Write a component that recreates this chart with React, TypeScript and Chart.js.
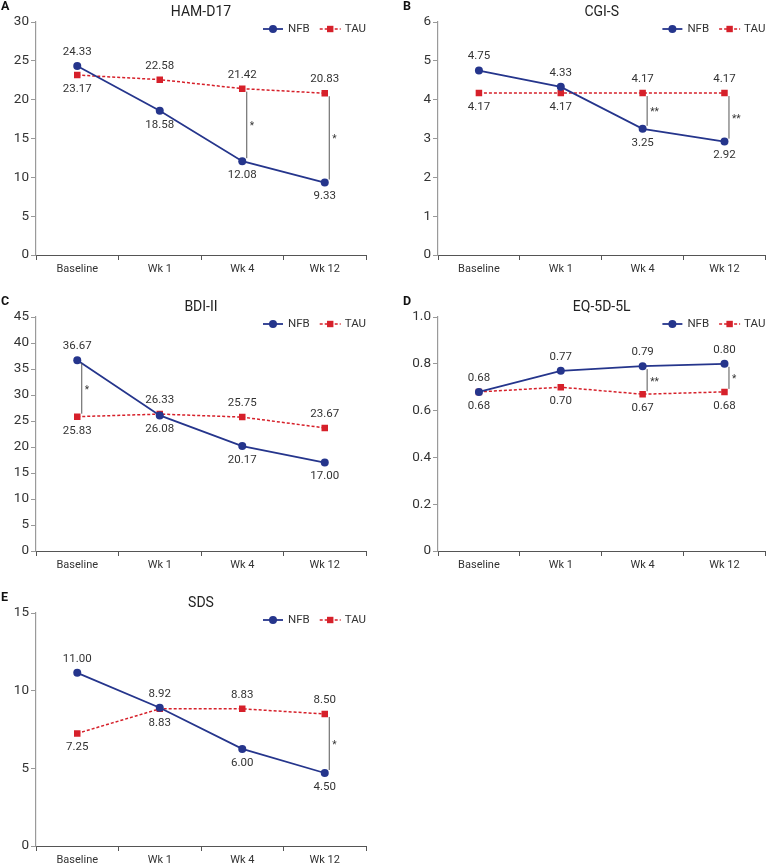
import React, { useEffect, useRef } from "react";
import { Chart, registerables } from "chart.js";

Chart.register(...registerables);

const FONT = "Roboto, 'Noto Sans', 'DejaVu Sans', sans-serif";
const NFB_COLOR = "#25358c";
const TAU_COLOR = "#d6202a";

const categories = ["Baseline", "Wk 1", "Wk 4", "Wk 12"];

const hamNFB = [24.33, 18.58, 12.08, 9.33];
const hamTAU = [23.17, 22.58, 21.42, 20.83];
const hamSig = ["", "", "*", "*"];

const cgiNFB = [4.75, 4.33, 3.25, 2.92];
const cgiTAU = [4.17, 4.17, 4.17, 4.17];
const cgiSig = ["", "", "**", "**"];

const bdiNFB = [36.67, 26.08, 20.17, 17.0];
const bdiTAU = [25.83, 26.33, 25.75, 23.67];
const bdiSig = ["*", "", "", ""];

const eqNFB = [0.68, 0.77, 0.79, 0.8];
const eqTAU = [0.68, 0.7, 0.67, 0.68];
const eqSig = ["", "", "**", "*"];

const sdsNFB = [11.15, 8.9, 6.25, 4.7];
const sdsNFBText = ["11.00", "8.92", "6.00", "4.50"];
const sdsTAU = [7.25, 8.83, 8.83, 8.5];
const sdsSig = ["", "", "", "*"];

const fmt2 = (a: number[]) => a.map((v) => v.toFixed(2));

type Panel = {
  letter: string;
  title: string;
  nfb: number[];
  tau: number[];
  nfbText: string[];
  tauText: string[];
  nfbPos: string[];
  tauPos: string[];
  sig: string[];
  min: number;
  max: number;
  step: number;
  decimals: boolean;
  box: { left: number; top: number; width: number; height: number };
  pad: { top: number; right: number; bottom: number };
  yWidth: number;
};

const panels: Panel[] = [
  {
    letter: "A", title: "HAM-D17", nfb: hamNFB, tau: hamTAU,
    nfbText: fmt2(hamNFB), tauText: fmt2(hamTAU),
    nfbPos: ["a", "b", "b", "b"], tauPos: ["b", "a", "a", "a"], sig: hamSig,
    min: 0, max: 30, step: 5, decimals: false,
    box: { left: 0, top: 0, width: 385, height: 290 },
    pad: { top: 22, right: 19, bottom: 17 }, yWidth: 36,
  },
  {
    letter: "B", title: "CGI-S", nfb: cgiNFB, tau: cgiTAU,
    nfbText: fmt2(cgiNFB), tauText: fmt2(cgiTAU),
    nfbPos: ["a", "a", "b", "b"], tauPos: ["b", "b", "a", "a"], sig: cgiSig,
    min: 0, max: 6, step: 1, decimals: false,
    box: { left: 385, top: 0, width: 385, height: 290 },
    pad: { top: 22, right: 2, bottom: 17 }, yWidth: 53,
  },
  {
    letter: "C", title: "BDI-II", nfb: bdiNFB, tau: bdiTAU,
    nfbText: fmt2(bdiNFB), tauText: fmt2(bdiTAU),
    nfbPos: ["a", "b", "b", "b"], tauPos: ["b", "a", "a", "a"], sig: bdiSig,
    min: 0, max: 45, step: 5, decimals: false,
    box: { left: 0, top: 290, width: 385, height: 290 },
    pad: { top: 27, right: 19, bottom: 11 }, yWidth: 36,
  },
  {
    letter: "D", title: "EQ-5D-5L", nfb: eqNFB, tau: eqTAU,
    nfbText: fmt2(eqNFB), tauText: fmt2(eqTAU),
    nfbPos: ["a", "a", "a", "a"], tauPos: ["b", "b", "b", "b"], sig: eqSig,
    min: 0, max: 1, step: 0.2, decimals: true,
    box: { left: 385, top: 290, width: 385, height: 290 },
    pad: { top: 27, right: 2, bottom: 11 }, yWidth: 53,
  },
  {
    letter: "E", title: "SDS", nfb: sdsNFB, tau: sdsTAU,
    nfbText: sdsNFBText, tauText: fmt2(sdsTAU),
    nfbPos: ["a", "a", "b", "b"], tauPos: ["b", "b", "a", "a"], sig: sdsSig,
    min: 0, max: 15, step: 5, decimals: false,
    box: { left: 0, top: 575, width: 385, height: 290 },
    pad: { top: 38, right: 19, bottom: 1 }, yWidth: 36,
  },
];

function makeAnnot(p: Panel) {
  return {
    id: "annot" + p.letter,
    afterDraw(chart: any) {
      const { ctx, chartArea } = chart;
      const top = chartArea.top;
      const left = chartArea.left;
      const right = chartArea.right;
      ctx.save();
      // data labels
      const m0 = chart.getDatasetMeta(0);
      const m1 = chart.getDatasetMeta(1);
      ctx.font = `11.5px ${FONT}`;
      ctx.fillStyle = "#333";
      ctx.textAlign = "center";
      ctx.textBaseline = "middle";
      m0.data.forEach((pt: any, i: number) => {
        const dy = p.nfbPos[i] === "a" ? -14 : 14;
        ctx.fillText(p.nfbText[i], pt.x, pt.y + dy);
      });
      m1.data.forEach((pt: any, i: number) => {
        const dy = p.tauPos[i] === "a" ? -14 : 14;
        ctx.fillText(p.tauText[i], pt.x, pt.y + dy);
      });
      // significance lines
      p.sig.forEach((s, i) => {
        if (!s) return;
        const a = m0.data[i];
        const b = m1.data[i];
        const x = a.x + 4.5;
        const y1 = Math.min(a.y, b.y) + 3;
        const y2 = Math.max(a.y, b.y) - 3;
        ctx.strokeStyle = "#555";
        ctx.lineWidth = 1;
        ctx.beginPath();
        ctx.moveTo(x, y1);
        ctx.lineTo(x, y2);
        ctx.stroke();
        ctx.font = `10px ${FONT}`;
        ctx.fillStyle = "#333";
        ctx.textAlign = "left";
        ctx.textBaseline = "middle";
        ctx.fillText(s, x + 3, (y1 + y2) / 2 + 2);
      });
      // title
      ctx.font = `14px ${FONT}`;
      ctx.fillStyle = "#222";
      ctx.textAlign = "center";
      ctx.textBaseline = "middle";
      ctx.fillText(p.title, (left + right) / 2, top - 10);
      // panel letter
      ctx.font = `bold 12.5px ${FONT}`;
      ctx.fillStyle = "#111";
      ctx.textAlign = "left";
      ctx.fillText(p.letter, left - 35, top - 15);
      // legend
      const ly = top + 7;
      ctx.font = `11.5px ${FONT}`;
      ctx.fillStyle = "#333";
      ctx.textBaseline = "middle";
      const tauW = ctx.measureText("TAU").width;
      const tauX = right - tauW;
      ctx.fillText("TAU", tauX, ly);
      const tl1 = tauX - 25, tl2 = tauX - 4;
      ctx.strokeStyle = TAU_COLOR;
      ctx.lineWidth = 1.5;
      ctx.setLineDash([3, 2]);
      ctx.beginPath();
      ctx.moveTo(tl1, ly);
      ctx.lineTo(tl2, ly);
      ctx.stroke();
      ctx.setLineDash([]);
      ctx.fillStyle = TAU_COLOR;
      ctx.fillRect((tl1 + tl2) / 2 - 3.2, ly - 3.2, 6.4, 6.4);
      const nfbW = ctx.measureText("NFB").width;
      const nfbX = tl1 - 10 - nfbW;
      ctx.fillStyle = "#333";
      ctx.fillText("NFB", nfbX, ly);
      const nl1 = nfbX - 25, nl2 = nfbX - 5;
      ctx.strokeStyle = NFB_COLOR;
      ctx.lineWidth = 1.8;
      ctx.beginPath();
      ctx.moveTo(nl1, ly);
      ctx.lineTo(nl2, ly);
      ctx.stroke();
      ctx.fillStyle = NFB_COLOR;
      ctx.beginPath();
      ctx.arc((nl1 + nl2) / 2, ly, 4, 0, Math.PI * 2);
      ctx.fill();
      ctx.restore();
    },
  };
}

function PanelChart({ p }: { p: Panel }) {
  const ref = useRef<HTMLCanvasElement>(null);
  useEffect(() => {
    if (!ref.current) return;
    const chart = new Chart(ref.current, {
      type: "line",
      data: {
        labels: categories,
        datasets: [
          {
            label: "NFB",
            data: p.nfb,
            borderColor: NFB_COLOR,
            backgroundColor: NFB_COLOR,
            borderWidth: 1.8,
            pointStyle: "circle",
            pointRadius: 4,
            pointBorderWidth: 0,
            tension: 0,
          },
          {
            label: "TAU",
            data: p.tau,
            borderColor: TAU_COLOR,
            backgroundColor: TAU_COLOR,
            borderWidth: 1.5,
            borderDash: [3, 2],
            pointStyle: "rect",
            pointRadius: 4.6,
            pointBorderWidth: 0,
            tension: 0,
          },
        ],
      },
      options: {
        responsive: false,
        animation: false,
        devicePixelRatio: 1,
        layout: { padding: { top: p.pad.top, right: p.pad.right, bottom: p.pad.bottom, left: 0 } },
        plugins: { legend: { display: false }, title: { display: false }, tooltip: { enabled: false } },
        scales: {
          x: {
            type: "category",
            offset: true,
            grid: { display: true, drawOnChartArea: false, offset: true, tickLength: 5, tickColor: "#555", color: "#555" },
            border: { display: true, color: "#555", width: 1 },
            ticks: { color: "#333", font: { family: FONT, size: 11 }, padding: 3, maxRotation: 0 },
            afterFit: (s: any) => { s.height = 18; },
          },
          y: {
            min: p.min,
            max: p.max,
            grid: { display: true, drawOnChartArea: false, tickLength: 5, tickColor: "#999", color: "#999" },
            border: { display: true, color: "#9a9a9a", width: 1.2 },
            ticks: {
              stepSize: p.step,
              color: "#333",
              font: { family: FONT, size: 13.5 },
              padding: 2,
              callback: (v: any) => {
                const n = Number(v);
                if (n === 0) return "0";
                return p.decimals ? n.toFixed(1) : String(Math.round(n));
              },
            },
            afterFit: (s: any) => { s.width = p.yWidth; },
          },
        },
      },
      plugins: [makeAnnot(p)],
    } as any);
    return () => chart.destroy();
  }, [p]);
  return (
    <canvas
      ref={ref}
      width={p.box.width}
      height={p.box.height}
      style={{ position: "absolute", left: p.box.left, top: p.box.top, width: p.box.width, height: p.box.height }}
    />
  );
}

export default function App() {
  return (
    <div style={{ position: "absolute", left: 0, top: 0, width: 770, height: 865, background: "#fff", overflow: "hidden" }}>
      {panels.map((p) => (
        <PanelChart key={p.letter} p={p} />
      ))}
    </div>
  );
}
